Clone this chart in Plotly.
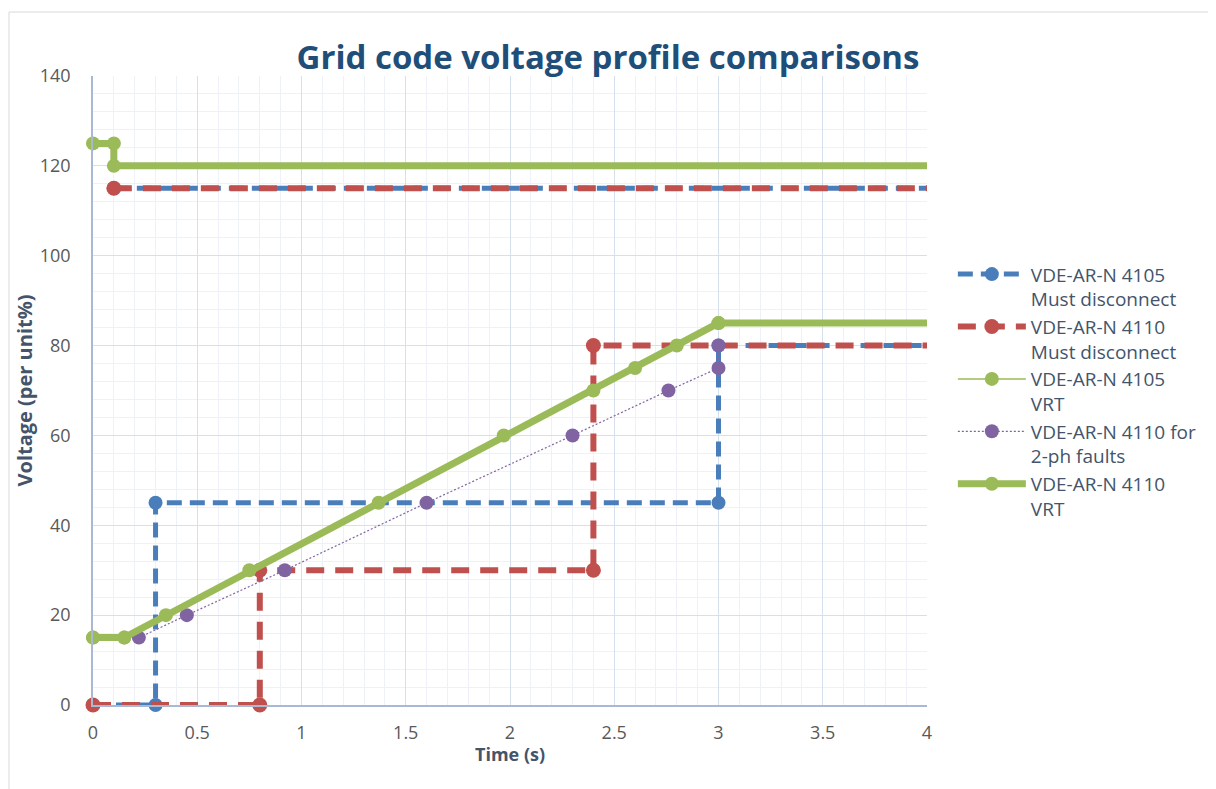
import plotly.graph_objects as go

# ---- data ----
blue_x = [0, 0.3, 0.3, 3, 3, 4, None, 0.1, 4]
blue_y = [0, 0, 45, 45, 80, 80, None, 115, 115]

red_x = [0, 0.8, 0.8, 2.4, 2.4, 4, None, 0.1, 4]
red_y = [0, 0, 30, 30, 80, 80, None, 115, 115]

green_thin_x = [0, 0.15, 0.35, 0.75, 1.37, 1.97, 2.4, 2.6, 2.8, 3]
green_thin_y = [15, 15, 20, 30, 45, 60, 70, 75, 80, 85]

purple_x = [0.22, 0.45, 0.92, 1.6, 2.3, 2.76, 3, 3]
purple_y = [15, 20, 30, 45, 60, 70, 75, 80]

green_thick_x = [0, 0.15, 3, 4, None, 0, 0.1, 0.1, 4]
green_thick_y = [15, 15, 85, 85, None, 125, 125, 120, 120]

names = [
    "VDE-AR-N 4105<br>Must disconnect",
    "VDE-AR-N 4110<br>Must disconnect",
    "VDE-AR-N 4105<br>VRT",
    "VDE-AR-N 4110 for<br>2-ph faults",
    "VDE-AR-N 4110<br>VRT",
]
x_ticks = [0, 0.5, 1, 1.5, 2, 2.5, 3, 3.5, 4]
x_tick_text = ["0", "0.5", "1", "1.5", "2", "2.5", "3", "3.5", "4"]
y_ticks = [0, 20, 40, 60, 80, 100, 120, 140]

BLUE = "#4A7EBB"
RED = "#C0504D"
GREEN = "#9BBB59"
PURPLE = "#8064A2"


def mcolors(xs, c):
    # lines run off to the right edge without a visible end marker
    return ["rgba(0,0,0,0)" if x == 4 else c for x in xs]


fig = go.Figure()
fig.add_trace(go.Scatter(
    x=blue_x, y=blue_y, name=names[0], mode="lines+markers", cliponaxis=False,
    line=dict(color=BLUE, width=5, dash="15px,8px"),
    marker=dict(color=mcolors(blue_x, BLUE), size=14),
))
fig.add_trace(go.Scatter(
    x=red_x, y=red_y, name=names[1], mode="lines+markers", cliponaxis=False,
    line=dict(color=RED, width=6, dash="18px,11px"),
    marker=dict(color=mcolors(red_x, RED), size=15),
))
fig.add_trace(go.Scatter(
    x=green_thin_x, y=green_thin_y, name=names[2], mode="lines+markers", cliponaxis=False,
    line=dict(color=GREEN, width=1.5),
    marker=dict(color=GREEN, size=14),
))
fig.add_trace(go.Scatter(
    x=purple_x, y=purple_y, name=names[3], mode="lines+markers", cliponaxis=False,
    line=dict(color=PURPLE, width=1.2, dash="2px,2px"),
    marker=dict(color=PURPLE, size=14),
))
fig.add_trace(go.Scatter(
    x=green_thick_x, y=green_thick_y, name=names[4], mode="lines+markers", cliponaxis=False,
    line=dict(color=GREEN, width=7),
    marker=dict(color=mcolors(green_thick_x, GREEN), size=14),
))

FONT = "'Open Sans', Lato, sans-serif"

fig.update_layout(
    width=1216, height=789,
    margin=dict(l=85, r=297, t=68, b=92),
    paper_bgcolor="white", plot_bgcolor="white",
    font=dict(family=FONT, color="#595959", size=18),
    title=dict(
        text="<b>Grid code voltage profile comparisons</b>",
        x=(608 - 8) / 1216, xanchor="center", xref="container",
        y=1 - 49 / 789, yanchor="middle", yref="container",
        font=dict(family=FONT, size=33, color="#1F4E79"),
    ),
    legend=dict(
        x=1.031, xanchor="left", y=0.715, yanchor="top",
        valign="top", tracegroupgap=0, itemwidth=68,
        font=dict(family=FONT, size=19, color="#44546A"),
        bgcolor="rgba(0,0,0,0)",
    ),
    showlegend=True,
    shapes=[dict(
        type="rect", xref="paper", yref="paper",
        x0=(9 - 93) / 834, x1=(1211 - 93) / 834,
        y0=(705 - 800) / 629, y1=(705 - 12) / 629,
        line=dict(color="#D9D9D9", width=1), fillcolor="rgba(0,0,0,0)", layer="below",
    )],
    annotations=[dict(
        text="<b>Time (s)</b>", xref="paper", yref="paper",
        x=0.5, xanchor="center", y=(705 - 754) / 629, yanchor="middle",
        showarrow=False, font=dict(family=FONT, size=18, color="#44546A"),
    )],
)

fig.update_xaxes(
    range=[0, 4], tickvals=x_ticks, ticktext=x_tick_text,
    showgrid=True, gridcolor="#D6DFEC", gridwidth=1,
    minor=dict(dtick=0.1, showgrid=True, gridcolor="#EEF2F8", gridwidth=1),
    showline=True, linecolor="#A9B9D3", linewidth=1.5,
    zeroline=False, ticks="", ticklabelstandoff=11,
    tickfont=dict(size=18, color="#595959"),
)
fig.update_yaxes(
    range=[0, 140], tickvals=y_ticks,
    showgrid=True, gridcolor="#D6DFEC", gridwidth=1,
    minor=dict(dtick=4, showgrid=True, gridcolor="#EEF2F8", gridwidth=1),
    showline=True, linecolor="#A9B9D3", linewidth=1.5,
    zeroline=False, ticks="", ticklabelstandoff=17,
    tickfont=dict(size=18, color="#595959"),
    title=dict(text="<b>Voltage (per unit%)</b>", standoff=2,
               font=dict(size=20, color="#44546A")),
)

fig.write_html("out.html")
